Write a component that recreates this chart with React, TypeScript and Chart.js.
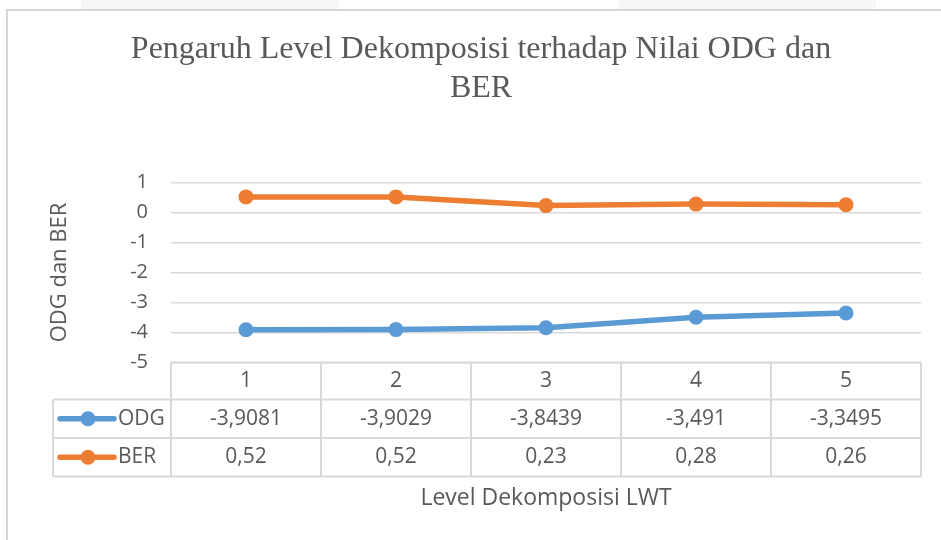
import React, { useEffect, useRef } from 'react';
import { Chart, registerables } from 'chart.js';

Chart.register(...registerables);

// ---- data ----
const categories = ['1', '2', '3', '4', '5'];
const odgValues = [-3.9081, -3.9029, -3.8439, -3.491, -3.3495];
const berValues = [0.52, 0.52, 0.23, 0.28, 0.26];
const seriesNames = ['ODG', 'BER'];
const yMin = -5;
const yMax = 1;
const yStep = 1;
const titleLines = ['Pengaruh Level Dekomposisi terhadap Nilai ODG dan', 'BER'];
const xAxisTitle = 'Level Dekomposisi LWT';
const yAxisTitle = 'ODG dan BER';

// ---- styles ----
const TEXT = '#595959';
const GRID = '#d9d9d9';
const BLUE = '#5b9bd5';
const ORANGE = '#ed7d31';
const SANS = '"Open Sans", sans-serif';
const SERIF = '"Liberation Serif", "Times New Roman", serif';
const W = 941;
const H = 540;

const fmt = (v: number) => String(v).replace('.', ',');

const decor = {
  id: 'decor',
  beforeDraw(chart: any) {
    const ctx = chart.ctx;
    ctx.save();
    ctx.fillStyle = '#ffffff';
    ctx.fillRect(0, 0, chart.width, chart.height);
    // faint page strips above the frame
    ctx.fillStyle = '#f7f7f7';
    ctx.fillRect(81, 0, 258, 9);
    ctx.fillRect(618, 0, 258, 9);
    // frame
    ctx.strokeStyle = '#d6d6d6';
    ctx.lineWidth = 2;
    ctx.beginPath();
    ctx.moveTo(7, chart.height);
    ctx.lineTo(7, 10);
    ctx.lineTo(chart.width, 10);
    ctx.stroke();
    // title
    ctx.fillStyle = TEXT;
    ctx.font = `32px ${SERIF}`;
    ctx.textAlign = 'center';
    ctx.textBaseline = 'alphabetic';
    ctx.fillText(titleLines[0], 481, 58);
    ctx.fillText(titleLines[1], 481, 97);
    ctx.restore();
  },
  afterDraw(chart: any) {
    const ctx = chart.ctx;
    const area = chart.chartArea;
    const xs = chart.scales.x;
    const n = categories.length;
    const colW = (area.right - area.left) / n;
    const legendLeft = 53;
    const rowTop = [area.bottom, area.bottom + 37, area.bottom + 75.5, area.bottom + 114];
    ctx.save();
    ctx.strokeStyle = GRID;
    ctx.lineWidth = 2;
    ctx.beginPath();
    ctx.moveTo(area.left, rowTop[0]);
    ctx.lineTo(area.right, rowTop[0]);
    for (let r = 1; r < 4; r++) {
      ctx.moveTo(legendLeft, rowTop[r]);
      ctx.lineTo(area.right, rowTop[r]);
    }
    for (let i = 0; i <= n; i++) {
      const x = area.left + i * colW;
      ctx.moveTo(x, rowTop[0]);
      ctx.lineTo(x, rowTop[3]);
    }
    ctx.moveTo(legendLeft, rowTop[1]);
    ctx.lineTo(legendLeft, rowTop[3]);
    ctx.stroke();

    ctx.fillStyle = TEXT;
    ctx.font = `21px ${SANS}`;
    ctx.textAlign = 'center';
    ctx.textBaseline = 'middle';
    const rowsVals = [odgValues, berValues];
    categories.forEach((c, i) => {
      const cx = xs.getPixelForValue(i);
      ctx.fillText(c, cx, (rowTop[0] + rowTop[1]) / 2);
      ctx.fillText(fmt(rowsVals[0][i]), cx, (rowTop[1] + rowTop[2]) / 2);
      ctx.fillText(fmt(rowsVals[1][i]), cx, (rowTop[2] + rowTop[3]) / 2);
    });

    // legend keys
    const colors = [BLUE, ORANGE];
    seriesNames.forEach((name, k) => {
      const cy = (rowTop[k + 1] + rowTop[k + 2]) / 2;
      ctx.strokeStyle = colors[k];
      ctx.lineWidth = 5.5;
      ctx.lineCap = 'round';
      ctx.beginPath();
      ctx.moveTo(60, cy);
      ctx.lineTo(114, cy);
      ctx.stroke();
      ctx.fillStyle = colors[k];
      ctx.beginPath();
      ctx.arc(88, cy, 7.5, 0, Math.PI * 2);
      ctx.fill();
      ctx.fillStyle = TEXT;
      ctx.textAlign = 'left';
      ctx.fillText(name, 118, cy);
    });

    // x axis title
    ctx.font = `23px ${SANS}`;
    ctx.textAlign = 'center';
    ctx.fillText(xAxisTitle, (area.left + area.right) / 2, 498);
    ctx.restore();
  },
};

export default function App() {
  const ref = useRef<HTMLCanvasElement | null>(null);
  useEffect(() => {
    if (!ref.current) return;
    const chart = new Chart(ref.current, {
      type: 'line',
      data: {
        labels: categories,
        datasets: [
          {
            label: seriesNames[0],
            data: odgValues,
            borderColor: BLUE,
            backgroundColor: BLUE,
            borderWidth: 5.5,
            pointRadius: 7.5,
            pointHoverRadius: 7.5,
            pointBorderWidth: 0,
            tension: 0,
          },
          {
            label: seriesNames[1],
            data: berValues,
            borderColor: ORANGE,
            backgroundColor: ORANGE,
            borderWidth: 5.5,
            pointRadius: 7.5,
            pointHoverRadius: 7.5,
            pointBorderWidth: 0,
            tension: 0,
          },
        ],
      },
      options: {
        animation: false,
        responsive: false,
        devicePixelRatio: 1,
        events: [],
        layout: { padding: { left: 0, top: 182.5, right: 20, bottom: 177.5 } },
        plugins: {
          legend: { display: false },
          title: { display: false },
          tooltip: { enabled: false },
        },
        scales: {
          x: { display: false, offset: true },
          y: {
            min: yMin,
            max: yMax,
            ticks: { stepSize: yStep, font: { family: SANS, size: 20 }, color: TEXT, padding: 23 },
            grid: { color: GRID, lineWidth: 1.5, drawTicks: false },
            border: { display: false },
            title: {
              display: true,
              text: yAxisTitle,
              color: TEXT,
              font: { family: SANS, size: 22 },
              padding: { top: 47, bottom: 0 },
            },
            afterFit(scale: any) {
              scale.width = 171;
            },
          },
        },
      },
      plugins: [decor],
    } as any);
    return () => chart.destroy();
  }, []);
  return (
    <canvas
      ref={ref}
      width={W}
      height={H}
      style={{ position: 'absolute', left: 0, top: 0, width: W, height: H }}
    />
  );
}
